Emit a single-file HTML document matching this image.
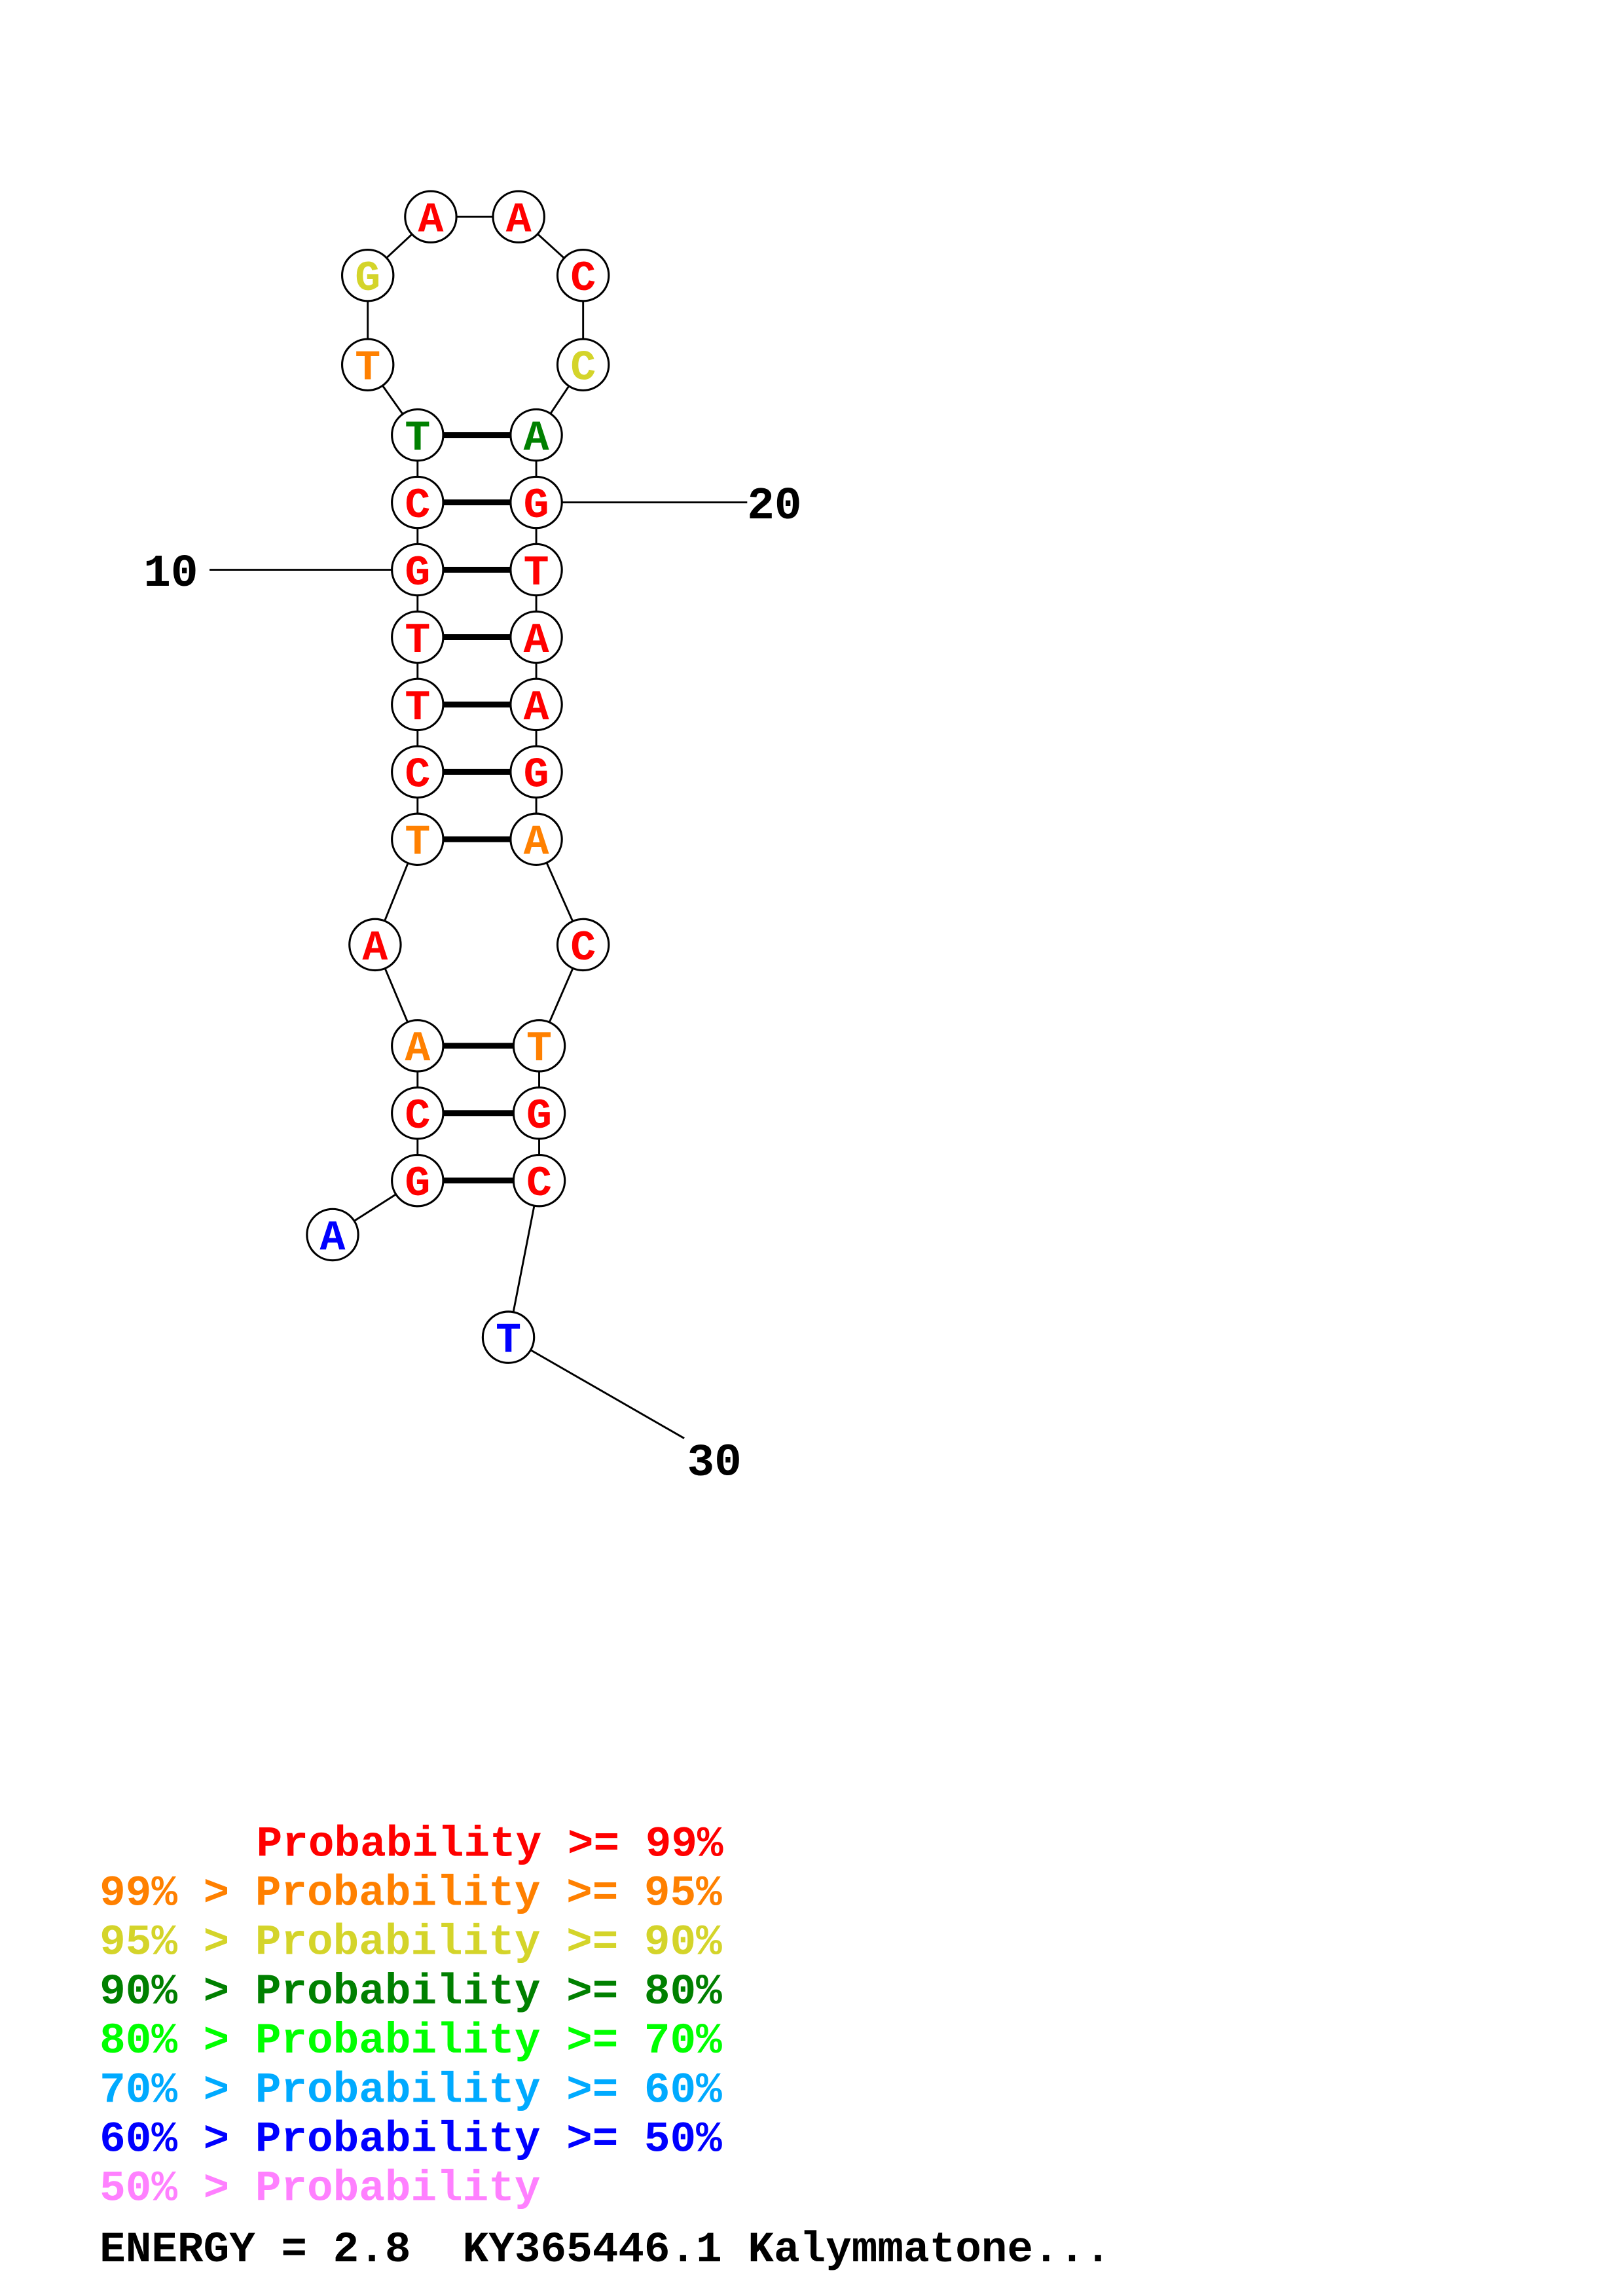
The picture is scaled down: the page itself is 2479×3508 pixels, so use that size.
<!DOCTYPE html>
<html><head><meta charset="utf-8"><style>
html,body{margin:0;padding:0;background:#fff;}
svg{display:block;}
text{font-family:"Liberation Mono","DejaVu Sans Mono",monospace;font-weight:bold;white-space:pre;}
</style></head><body>
<svg width="2479" height="3508" viewBox="0 0 1100 1556.6" xmlns="http://www.w3.org/2000/svg">
<rect width="1100" height="1556.6" fill="#fff"/>
<g transform="scale(0.993)">
<g stroke="#000" stroke-width="1.3" fill="none">
<polyline points="227,843 285,806 285,760 285,714 256,645 285,573 285,527 285,481 285,435 285,389 285,343 285,297 251,249 251,188 294,148 354,148 398,188 398,249 366,297 366,343 366,389 366,435 366,481 366,527 366,573 398,645 368,714 368,760 368,806 347,913 467,982"/>
<line x1="143" y1="389" x2="285" y2="389"/>
<line x1="366" y1="343" x2="510" y2="343"/>
</g>
<g stroke="#000" stroke-width="4">
<line x1="285" y1="297" x2="366" y2="297"/>
<line x1="285" y1="343" x2="366" y2="343"/>
<line x1="285" y1="389" x2="366" y2="389"/>
<line x1="285" y1="435" x2="366" y2="435"/>
<line x1="285" y1="481" x2="366" y2="481"/>
<line x1="285" y1="527" x2="366" y2="527"/>
<line x1="285" y1="573" x2="366" y2="573"/>
<line x1="285" y1="714" x2="368" y2="714"/>
<line x1="285" y1="760" x2="368" y2="760"/>
<line x1="285" y1="806" x2="368" y2="806"/>
</g>
<g stroke="#000" stroke-width="1.4" fill="#fff">
<circle cx="227" cy="843" r="17.5"/><circle cx="285" cy="806" r="17.5"/><circle cx="285" cy="760" r="17.5"/><circle cx="285" cy="714" r="17.5"/><circle cx="256" cy="645" r="17.5"/><circle cx="285" cy="573" r="17.5"/><circle cx="285" cy="527" r="17.5"/><circle cx="285" cy="481" r="17.5"/><circle cx="285" cy="435" r="17.5"/><circle cx="285" cy="389" r="17.5"/><circle cx="285" cy="343" r="17.5"/><circle cx="285" cy="297" r="17.5"/><circle cx="251" cy="249" r="17.5"/><circle cx="251" cy="188" r="17.5"/><circle cx="294" cy="148" r="17.5"/><circle cx="354" cy="148" r="17.5"/><circle cx="398" cy="188" r="17.5"/><circle cx="398" cy="249" r="17.5"/><circle cx="366" cy="297" r="17.5"/><circle cx="366" cy="343" r="17.5"/><circle cx="366" cy="389" r="17.5"/><circle cx="366" cy="435" r="17.5"/><circle cx="366" cy="481" r="17.5"/><circle cx="366" cy="527" r="17.5"/><circle cx="366" cy="573" r="17.5"/><circle cx="398" cy="645" r="17.5"/><circle cx="368" cy="714" r="17.5"/><circle cx="368" cy="760" r="17.5"/><circle cx="368" cy="806" r="17.5"/><circle cx="347" cy="913" r="17.5"/>
</g>
<g font-size="29" text-anchor="middle">
<text x="227" y="853" fill="#0000ff">A</text>
<text x="285" y="816" fill="#ff0000">G</text>
<text x="285" y="770" fill="#ff0000">C</text>
<text x="285" y="724" fill="#ff8000">A</text>
<text x="256" y="655" fill="#ff0000">A</text>
<text x="285" y="583" fill="#ff8000">T</text>
<text x="285" y="537" fill="#ff0000">C</text>
<text x="285" y="491" fill="#ff0000">T</text>
<text x="285" y="445" fill="#ff0000">T</text>
<text x="285" y="399" fill="#ff0000">G</text>
<text x="285" y="353" fill="#ff0000">C</text>
<text x="285" y="307" fill="#008000">T</text>
<text x="251" y="259" fill="#ff8000">T</text>
<text x="251" y="198" fill="#d4d42a">G</text>
<text x="294" y="158" fill="#ff0000">A</text>
<text x="354" y="158" fill="#ff0000">A</text>
<text x="398" y="198" fill="#ff0000">C</text>
<text x="398" y="259" fill="#d4d42a">C</text>
<text x="366" y="307" fill="#008000">A</text>
<text x="366" y="353" fill="#ff0000">G</text>
<text x="366" y="399" fill="#ff0000">T</text>
<text x="366" y="445" fill="#ff0000">A</text>
<text x="366" y="491" fill="#ff0000">A</text>
<text x="366" y="537" fill="#ff0000">G</text>
<text x="366" y="583" fill="#ff8000">A</text>
<text x="398" y="655" fill="#ff0000">C</text>
<text x="368" y="724" fill="#ff8000">T</text>
<text x="368" y="770" fill="#ff0000">G</text>
<text x="368" y="816" fill="#ff0000">C</text>
<text x="347" y="923" fill="#0000ff">T</text>
</g>
<g font-size="31" fill="#000">
<text x="98" y="400">10</text>
<text x="510" y="354">20</text>
<text x="469" y="1007">30</text>
</g>
<g font-size="29.5">
<text x="175" y="1267" fill="#ff0000">Probability &gt;= 99%</text>
<text x="68" y="1300.6" fill="#ff8000">99% &gt; Probability &gt;= 95%</text>
<text x="68" y="1334.2" fill="#d4d42a">95% &gt; Probability &gt;= 90%</text>
<text x="68" y="1367.8" fill="#008000">90% &gt; Probability &gt;= 80%</text>
<text x="68" y="1401.4" fill="#00ff00">80% &gt; Probability &gt;= 70%</text>
<text x="68" y="1435" fill="#00aaff">70% &gt; Probability &gt;= 60%</text>
<text x="68" y="1468.6" fill="#0000ff">60% &gt; Probability &gt;= 50%</text>
<text x="68" y="1502.2" fill="#ff80ff">50% &gt; Probability</text>
<text x="68" y="1544" fill="#000">ENERGY = 2.8  KY365446.1 Kalymmatone...</text>
</g>
</g>
</svg>
</body></html>
